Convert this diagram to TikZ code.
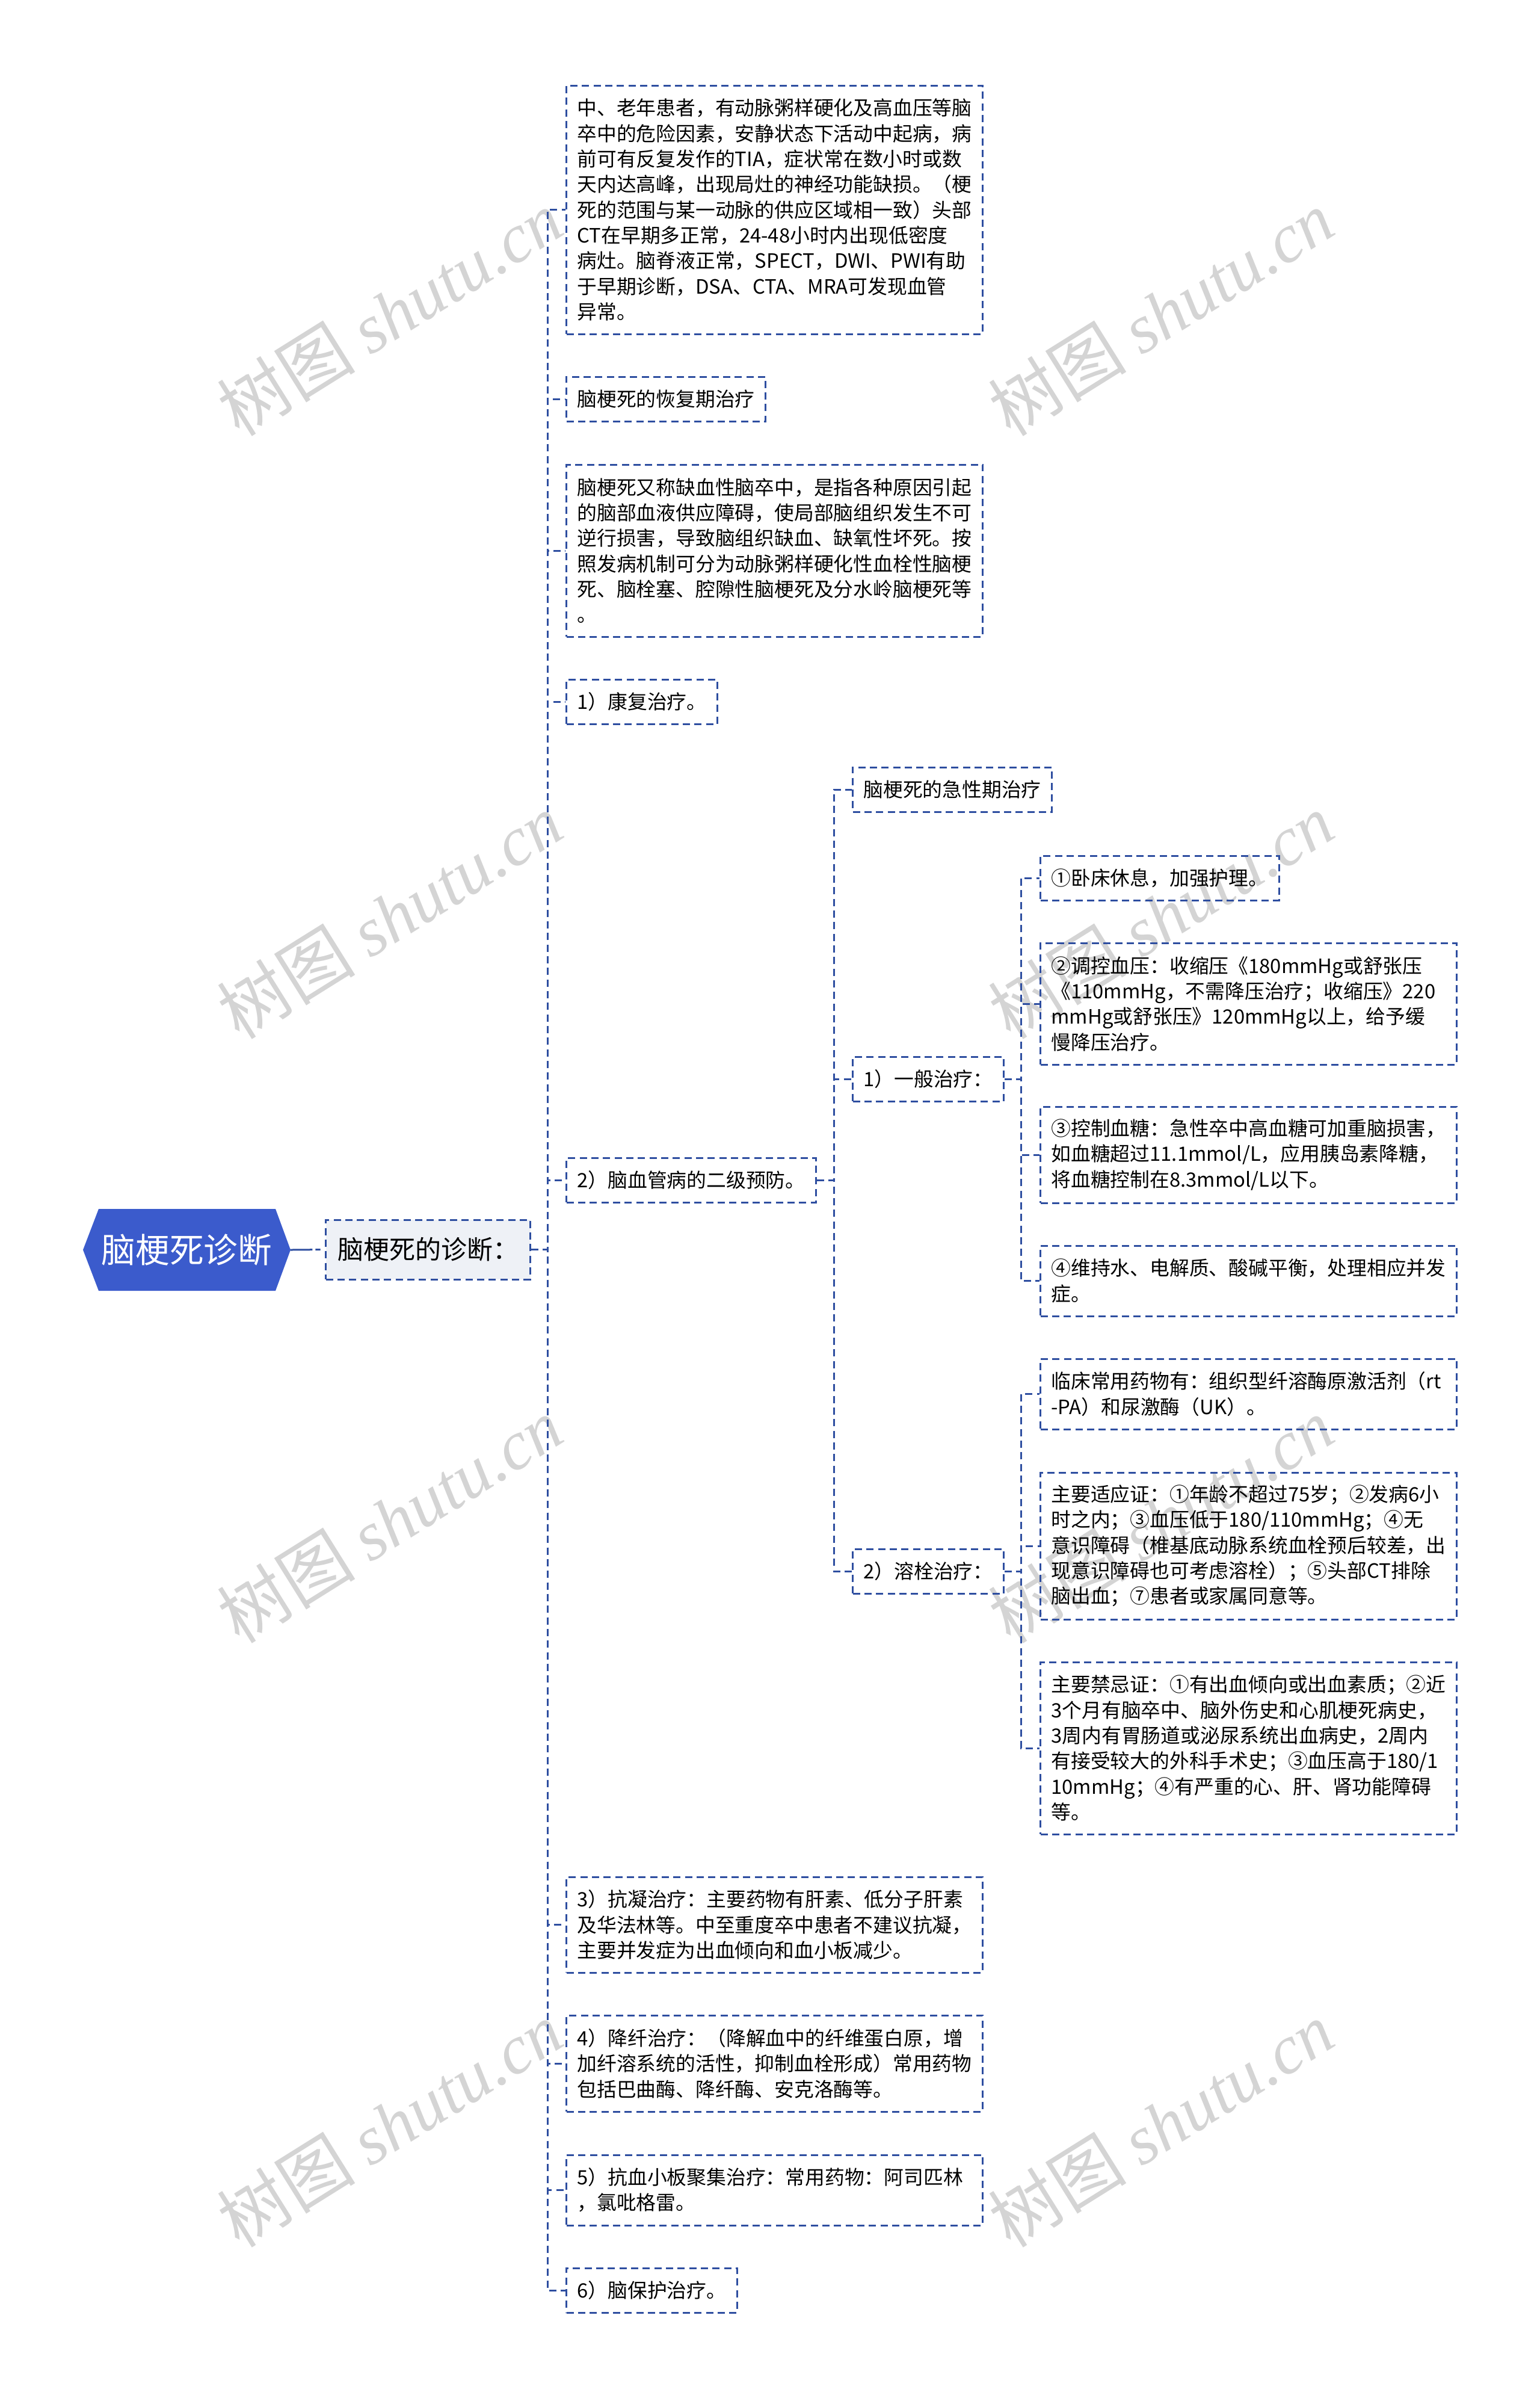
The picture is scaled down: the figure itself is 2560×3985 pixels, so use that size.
\documentclass[tikz,border=0pt]{standalone}
\usepackage{fontspec}
\setmainfont{Noto Sans CJK SC}
\newfontfamily\wmserif{Liberation Serif}
\usetikzlibrary{positioning}
\definecolor{mapblue}{RGB}{46,78,160}
\definecolor{rootblue}{RGB}{59,91,204}
\definecolor{lvlgray}{RGB}{238,241,246}
\definecolor{wmgray}{RGB}{212,212,212}

\begin{document}
\begin{tikzpicture}[x=0.3pt,y=-0.3pt,
	box/.style={draw=mapblue, line width=0.9pt, dash pattern=on 3.6pt off 2.2pt,
		anchor=west, inner xsep=5.4pt, inner ysep=0pt, minimum height=22.2pt,
		font=\fontsize{9.84}{12.7}\selectfont},
	para/.style={box, text width=196.8pt, align=left},
	link/.style={draw=mapblue, line width=0.9pt, dash pattern=on 3.6pt off 2.2pt},
	wmark/.style={text=wmgray, rotate=32, font=\fontsize{34.5}{34.5}\selectfont}]
	\useasboundingbox (0,0) rectangle (2560,3985);
	\foreach \wx in {648,1930}
	\foreach \wy in {520,1522,2526,3530}
	\node[wmark] (wm\wx\wy) at (\wx,\wy) {树图 {\wmserif\itshape shutu.cn}};

	\fill[rootblue] (138,2077) -- (164,2009) -- (458,2009) -- (483,2077) -- (458,2145) -- (164,2145) -- cycle;
	\node (root) [text=white, minimum width=102.9pt, minimum height=40.8pt, inner sep=0pt,
	font=\fontsize{17}{20}\selectfont] at (310.5,2077) {脑梗死诊断};
	\node (diag) [box, fill=lvlgray, minimum width=102pt, minimum height=29.7pt,
	font=\fontsize{12.9}{15}\selectfont] at (540,2076.5) {脑梗死的诊断：};

	\node (early) [para, minimum height=123.9pt] at (940,348.5) {中、老年患者，有动脉粥样硬化及高血压等脑\\
		卒中的危险因素，安静状态下活动中起病，病\\
		前可有反复发作的TIA，症状常在数小时或数\\
		天内达高峰，出现局灶的神经功能缺损。（梗\\
		死的范围与某一动脉的供应区域相一致）头部\\
		CT在早期多正常，24-48小时内出现低密度\\
		病灶。脑脊液正常，SPECT，DWI、PWI有助\\
		于早期诊断，DSA、CTA、MRA可发现血管\\
		异常。};
	\node (recov) [box] at (940,663) {脑梗死的恢复期治疗};
	\node (defn) [para, minimum height=85.8pt] at (940,915) {脑梗死又称缺血性脑卒中，是指各种原因引起\\
		的脑部血液供应障碍，使局部脑组织发生不可\\
		逆行损害，导致脑组织缺血、缺氧性坏死。按\\
		照发病机制可分为动脉粥样硬化性血栓性脑梗\\
		死、脑栓塞、腔隙性脑梗死及分水岭脑梗死等\\
		。};
	\node (rehab) [box] at (940,1166) {1）康复治疗。};
	\node (prev) [box] at (940,1961) {2）脑血管病的二级预防。};
	\node (anti) [para, minimum height=47.7pt] at (940,3198.5) {3）抗凝治疗：主要药物有肝素、低分子肝素\\
		及华法林等。中至重度卒中患者不建议抗凝，\\
		主要并发症为出血倾向和血小板减少。};
	\node (fib) [para, minimum height=48pt] at (940,3429) {4）降纤治疗：（降解血中的纤维蛋白原，增\\
		加纤溶系统的活性，抑制血栓形成）常用药物\\
		包括巴曲酶、降纤酶、安克洛酶等。};
	\node (plt) [para, minimum height=35.1pt] at (940,3639.5) {5）抗血小板聚集治疗：常用药物：阿司匹林\\
		，氯吡格雷。};
	\node (prot) [box] at (940,3806) {6）脑保护治疗。};

	\node (acute) [box] at (1416,1312) {脑梗死的急性期治疗};
	\node (gen) [box] at (1416,1793) {1）一般治疗：};
	\node (lys) [box] at (1416,2611) {2）溶栓治疗：};

	\node (bed) [box] at (1728,1459) {①卧床休息，加强护理。};
	\node (bp) [para, minimum height=60.6pt] at (1728,1668) {②调控血压：收缩压《180mmHg或舒张压\\
		《110mmHg，不需降压治疗；收缩压》220\\
		mmHg或舒张压》120mmHg以上，给予缓\\
		慢降压治疗。};
	\node (sugar) [para, minimum height=48pt] at (1728,1919) {③控制血糖：急性卒中高血糖可加重脑损害，\\
		如血糖超过11.1mmol/L，应用胰岛素降糖，\\
		将血糖控制在8.3mmol/L以下。};
	\node (water) [para, minimum height=35.1pt] at (1728,2128.5) {④维持水、电解质、酸碱平衡，处理相应并发\\
		症。};
	\node (drug) [para, minimum height=35.1pt] at (1728,2316.5) {临床常用药物有：组织型纤溶酶原激活剂（rt\\
		-PA）和尿激酶（UK）。};
	\node (indic) [para, minimum height=73.2pt] at (1728,2569) {主要适应证：①年龄不超过75岁；②发病6小\\
		时之内；③血压低于180/110mmHg；④无\\
		意识障碍（椎基底动脉系统血栓预后较差，出\\
		现意识障碍也可考虑溶栓）；⑤头部CT排除\\
		脑出血；⑦患者或家属同意等。};
	\node (contra) [para, minimum height=85.8pt] at (1728,2905) {主要禁忌证：①有出血倾向或出血素质；②近\\
		3个月有脑卒中、脑外伤史和心肌梗死病史，\\
		3周内有胃肠道或泌尿系统出血病史，2周内\\
		有接受较大的外科手术史；③血压高于180/1\\
		10mmHg；④有严重的心、肝、肾功能障碍\\
		等。};

	\coordinate (t1) at (910,0);
	\coordinate (t2) at (1386,0);
	\coordinate (t3) at (1697,0);
	\draw[link, dash pattern=on 11pt off 1.5pt on 2.5pt off 5pt] (root.east) -- (diag.west);
	\foreach \n in {early,recov,defn,rehab,prev,anti,fib,plt,prot}
	\draw[link] (diag.east) -- (diag.east -| t1) |- (\n.west);
	\foreach \n in {acute,gen,lys}
	\draw[link] (prev.east) -- (prev.east -| t2) |- (\n.west);
	\foreach \n in {bed,bp,sugar,water}
	\draw[link] (gen.east) -- (gen.east -| t3) |- (\n.west);
	\foreach \n in {drug,indic,contra}
	\draw[link] (lys.east) -- (lys.east -| t3) |- (\n.west);
\end{tikzpicture}
\end{document}
